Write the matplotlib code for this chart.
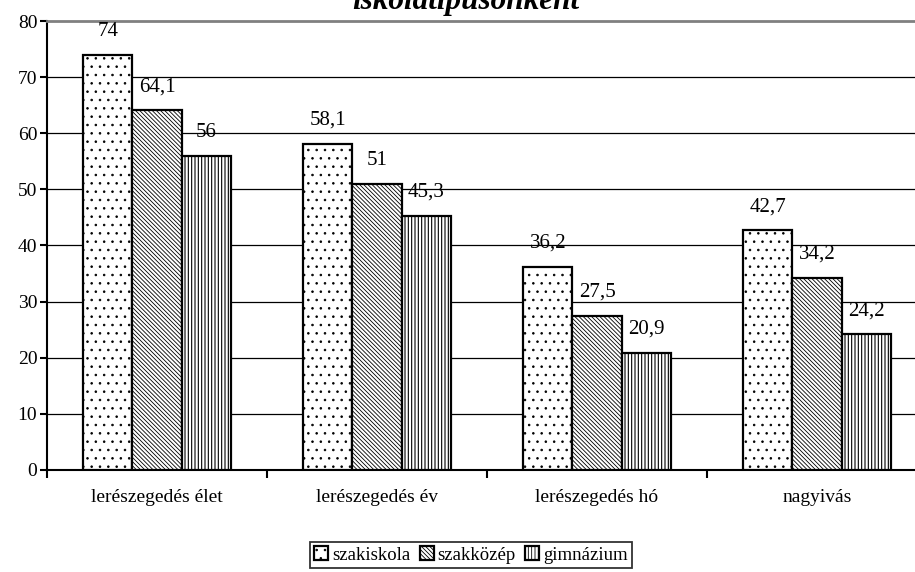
import matplotlib
matplotlib.use("Agg")
import matplotlib.pyplot as plt
import numpy as np

categories = ["lerészegedés élet", "lerészegedés év", "lerészegedés hó", "nagyivás"]
series_names = ["szakiskola", "szakközép", "gimnázium"]
szakiskola = [74, 58.1, 36.2, 42.7]
szakkozep = [64.1, 51, 27.5, 34.2]
gimnazium = [56, 45.3, 20.9, 24.2]
yticks = [0, 10, 20, 30, 40, 50, 60, 70, 80]
title_visible = "iskolatípusonként"

plt.rcParams['font.family'] = ['Liberation Serif', 'DejaVu Serif']

fig = plt.figure(figsize=(9.15, 5.72), dpi=100)
ax = fig.add_axes([47/915, 1-470/572, 880/915, 449/572])

x = np.arange(len(categories))
w = 0.223
hatches = ['..', '\\\\\\\\\\\\\\\\', '|||||']
hlw = [0.6, 0.6, 0.8]
data = [szakiskola, szakkozep, gimnazium]
for i, (vals, name, h) in enumerate(zip(data, series_names, hatches)):
    with plt.rc_context({'hatch.linewidth': hlw[i]}):
        bars = ax.bar(x + (i-1)*w, vals, w, facecolor='white', edgecolor='black',
                      hatch=h, linewidth=1.6, label=name, zorder=3)
        for b in bars:
            if hasattr(b, 'set_hatch_linewidth'):
                b.set_hatch_linewidth(hlw[i])
    for xi, v in zip(x + (i-1)*w, vals):
        ax.text(xi, v + 4.2, f"{v:g}".replace('.', ','), ha='center', va='center',
                fontsize=15, zorder=4)

ax.set_xlim(-0.5, len(categories)-0.5)
ax.set_ylim(0, 80)
ax.set_yticks(yticks)
ax.set_yticklabels([str(t) for t in yticks], fontsize=14)
ax.set_xticks(x)
ax.set_xticklabels(categories, fontsize=14)
ax.tick_params(axis='x', length=0, pad=14)
ax.set_xticks(np.arange(len(categories)+1)-0.5, minor=True)
ax.tick_params(axis='x', which='minor', length=6, width=1.5, direction='out')
ax.tick_params(axis='y', length=5, width=1.5, direction='out', pad=2)
for t in yticks[1:-1]:
    ax.axhline(t, color='black', linewidth=0.9, zorder=1)
ax.spines['top'].set_color('#808080')
ax.spines['top'].set_linewidth(2)
ax.spines['right'].set_visible(False)
ax.spines['left'].set_linewidth(1.5)
ax.spines['bottom'].set_linewidth(1.5)

fig.text(466/915, 1-9/572, title_visible, ha='center', va='baseline', fontsize=22.5,
         fontweight='bold', style='italic')

with plt.rc_context({'hatch.linewidth': 0.6}):
    leg = fig.legend(loc='center', bbox_to_anchor=(471/915, 1-555/572), ncol=3,
                     fontsize=13.5, frameon=True, fancybox=False, edgecolor='black',
                     handlelength=0.75, handleheight=0.75, handletextpad=0.2,
                     columnspacing=0.5, borderpad=0.25)
leg.get_frame().set_linewidth(1.3)

fig.savefig("out.png", dpi=100)
